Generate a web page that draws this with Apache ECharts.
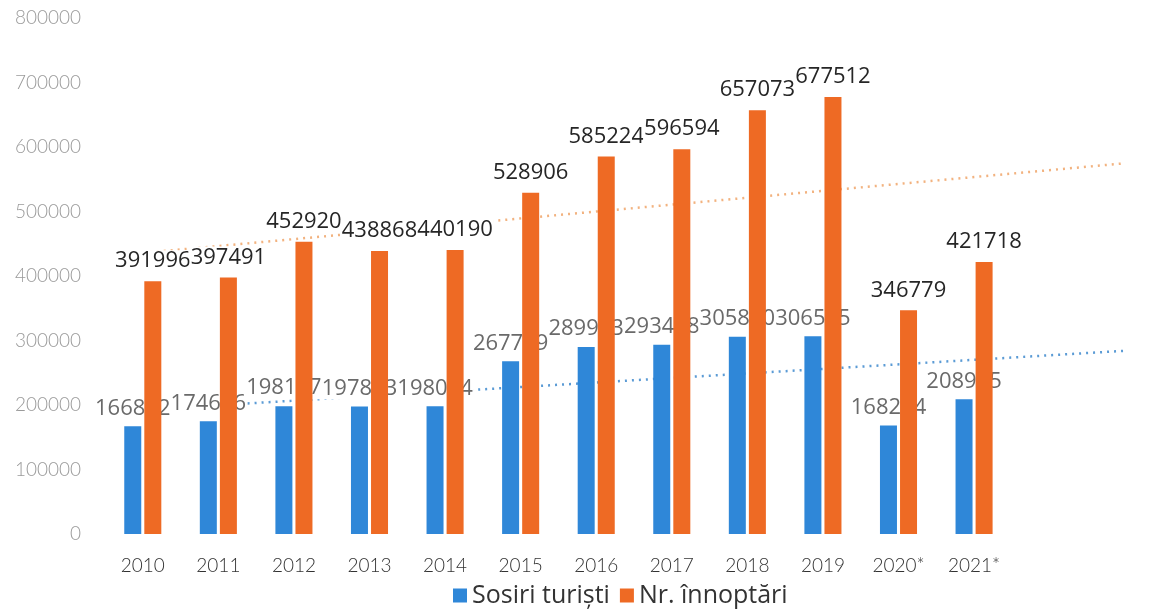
<!DOCTYPE html>
<html>
<head>
<meta charset="utf-8">
<title>Sosiri turiști și înnoptări 2010–2021</title>
<script src="https://cdn.jsdelivr.net/npm/echarts@6/dist/echarts.min.js"></script>
<style>
  html, body { margin: 0; padding: 0; background: #fff; }
  #chart { width: 1163px; height: 610px; }
</style>
</head>
<body>
<div id="chart"></div>
<script>
// Years on the category axis
const categories = ['2010', '2011', '2012', '2013', '2014', '2015', '2016', '2017', '2018', '2019', '2020*', '2021*'];

// Tourist arrivals
const sosiri = [166862, 174616, 198157, 197813, 198064, 267789, 289993, 293408, 305800, 306565, 168224, 208905];

// Overnight stays
const innoptari = [391996, 397491, 452920, 438868, 440190, 528906, 585224, 596594, 657073, 677512, 346779, 421718];

// Value axis ticks
const yTicks = [0, 100000, 200000, 300000, 400000, 500000, 600000, 700000, 800000];

// Two empty slots on the right so the trend lines can run forward past 2021*
const axisCategories = categories.concat(['', '']);

// Least-squares linear trend, evaluated at category indices
function linearTrend(values, toIndex) {
  const n = values.length;
  let sx = 0, sy = 0, sxy = 0, sxx = 0;
  values.forEach((v, i) => { sx += i; sy += v; sxy += i * v; sxx += i * i; });
  const slope = (n * sxy - sx * sy) / (n * sxx - sx * sx);
  const intercept = (sy - slope * sx) / n;
  return [[0, intercept], [toIndex, intercept + slope * toIndex]];
}

const chart = echarts.init(document.getElementById('chart'));

const labelBase = {
  show: true,
  position: 'top',
  fontFamily: 'Open Sans',
  fontSize: 22,
  backgroundColor: '#fff',
  padding: [0, 1]
};

chart.setOption({
  animation: false,
  backgroundColor: '#fff',
  grid: { left: 105, top: 18, width: 1092, height: 516, containLabel: false },
  legend: {
    left: 448,
    top: 578,
    itemWidth: 14,
    itemHeight: 14,
    itemGap: 10,
    icon: 'rect',
    textStyle: { fontFamily: 'Open Sans', fontSize: 25, color: '#333' },
    data: ['Sosiri turiști', 'Nr. înnoptări']
  },
  xAxis: {
    type: 'category',
    data: axisCategories,
    axisLine: { show: false },
    axisTick: { show: false },
    axisLabel: { fontFamily: 'Lato', fontWeight: 300, fontSize: 19, color: '#333', margin: 22 }
  },
  yAxis: {
    type: 'value',
    min: yTicks[0],
    max: yTicks[yTicks.length - 1],
    interval: yTicks[1] - yTicks[0],
    splitLine: { show: false },
    axisLine: { show: false },
    axisTick: { show: false },
    axisLabel: {
      fontFamily: 'Lato', fontWeight: 300, fontSize: 19, color: '#9a9a9a', margin: 24,
      formatter: v => String(v)
    }
  },
  series: [
    {
      name: 'Sosiri turiști',
      type: 'bar',
      z: 2,
      data: sosiri,
      barWidth: 17,
      barGap: '18%',
      itemStyle: { color: '#2f87d8' },
      label: Object.assign({}, labelBase, { color: '#6a6a6a', distance: 7 })
    },
    {
      name: 'Nr. înnoptări',
      type: 'bar',
      z: 3,
      data: innoptari,
      barWidth: 17,
      itemStyle: { color: '#ee6a24' },
      label: Object.assign({}, labelBase, { color: '#262626', distance: 9 })
    },
    {
      name: 'trend-sosiri',
      type: 'line',
      z: 1,
      data: linearTrend(sosiri, 13),
      symbol: 'none',
      silent: true,
      clip: false,
      lineStyle: { color: '#5b9bd5', width: 2.5, type: [2, 5] }
    },
    {
      name: 'trend-innoptari',
      type: 'line',
      z: 1,
      data: linearTrend(innoptari, 13),
      symbol: 'none',
      silent: true,
      clip: false,
      lineStyle: { color: '#f2b27f', width: 2.5, type: [2, 5] }
    }
  ]
});
</script>
</body>
</html>
